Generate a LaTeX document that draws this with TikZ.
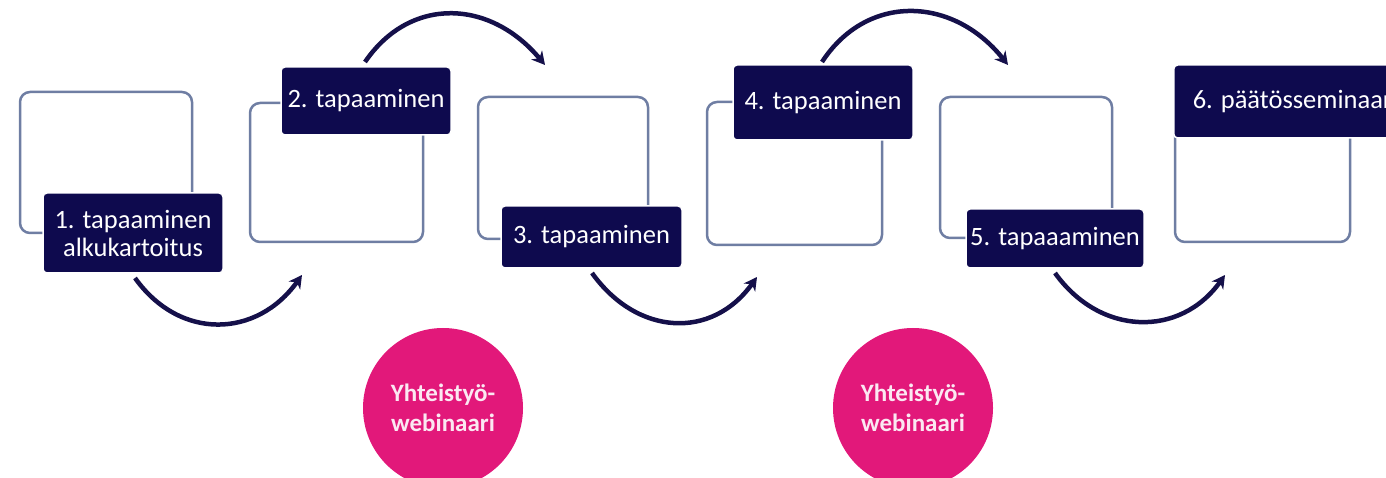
\documentclass[tikz,border=0pt]{standalone}
\usepackage{fontspec}
\setmainfont{Carlito}
\usetikzlibrary{arrows.meta}

\definecolor{navy}{HTML}{0E0A4E}
\definecolor{arrowink}{HTML}{15104A}
\definecolor{framegray}{HTML}{6F7EA3}
\definecolor{webpink}{HTML}{E2187A}
\definecolor{paleink}{HTML}{FBE8F2}

\tikzset{
  stepframe/.style={draw=framegray, line width=2.5pt, rounded corners=10pt},
  stepbox/.style={fill=navy, draw=white, line width=1.5pt, rounded corners=4pt,
    text=white, align=center, font=\fontsize{26.5}{28}\selectfont},
  webcircle/.style={circle, fill=webpink, minimum size=160pt, text=paleink,
    align=center, font=\bfseries\fontsize{25}{30}\selectfont},
  hop/.style={draw=arrowink, line width=4.5pt, -{Stealth[length=13pt,width=14pt]}}
}

\begin{document}
\begin{tikzpicture}[x=1pt,y=1pt]
  \useasboundingbox (0,0) rectangle (1386,478);
  \clip (0,0) rectangle (1386,478);

  % frames behind the step labels
  \node[stepframe, minimum width=172pt, minimum height=141pt] (f1) at (106,315.5) {};
  \node[stepframe, minimum width=173pt, minimum height=139pt] (f2) at (336.5,305.5) {};
  \node[stepframe, minimum width=170pt, minimum height=142pt] (f3) at (563,310) {};
  \node[stepframe, minimum width=175pt, minimum height=143pt] (f4) at (794.5,304.5) {};
  \node[stepframe, minimum width=172pt, minimum height=141pt] (f5) at (1026,310.5) {};
  \node[stepframe, minimum width=175pt, minimum height=142pt] (f6) at (1262.5,307) {};

  % step labels
  \node[stepbox, minimum width=180pt, minimum height=80pt] (b1) at (133,245) {1. tapaaminen\\alkukartoitus};
  \node[stepbox, minimum width=170pt, minimum height=68pt] (b2) at (366,377) {2. tapaaminen};
  \node[stepbox, minimum width=181pt, minimum height=62pt] (b3) at (591.5,241) {3. tapaaminen};
  \node[stepbox, minimum width=180pt, minimum height=75pt] (b4) at (823,375.5) {4. tapaaminen};
  \node[stepbox, minimum width=178pt, minimum height=59pt] (b5) at (1055,239.5) {5. tapaaaminen};
  \node[stepbox, anchor=west, minimum height=73pt, inner xsep=19pt] (b6) at (1173,376.5) {6. päätösseminaari};

  % webinars
  \node[webcircle] (w1) at (443,70) {Yhteistyö-\\webinaari};
  \node[webcircle] (w2) at (913,70) {Yhteistyö-\\webinaari};

  % arrow ends
  \coordinate (s1) at (135,200);  \coordinate (e1) at (302,203);
  \coordinate (s2) at (365,416);  \coordinate (e2) at (545,413);
  \coordinate (s3) at (592,205);  \coordinate (e3) at (757,201);
  \coordinate (s4) at (822,416);  \coordinate (e4) at (1008,413);
  \coordinate (s5) at (1055,205); \coordinate (e5) at (1225,203);

  \draw[hop] (s1) .. controls +(45,-63) and +(-45,-63) .. (e1);
  \draw[hop] (s2) .. controls +(45,66) and +(-55,66) .. (e2);
  \draw[hop] (s3) .. controls +(45,-63) and +(-45,-63) .. (e3);
  \draw[hop] (s4) .. controls +(45,69) and +(-55,69) .. (e4);
  \draw[hop] (s5) .. controls +(45,-63) and +(-45,-63) .. (e5);
\end{tikzpicture}
\end{document}
